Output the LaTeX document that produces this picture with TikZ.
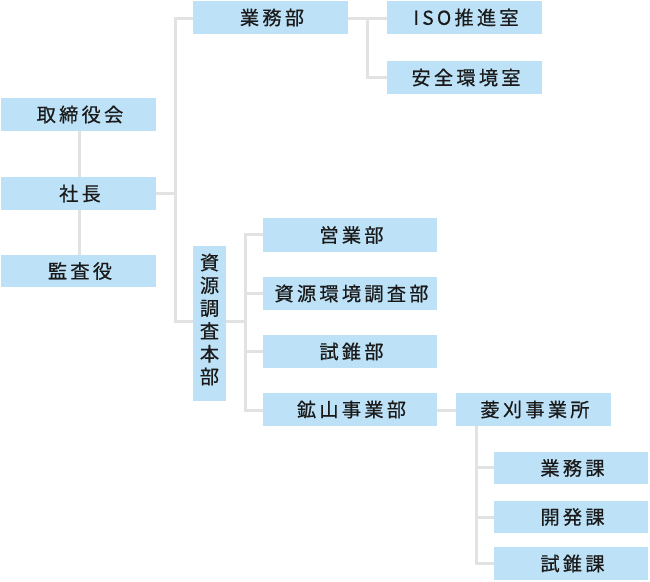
\documentclass[tikz,border=0pt]{standalone}
\usepackage{fontspec}
\newfontfamily\jp[LetterSpace=17,FakeBold=0.6]{Noto Sans CJK JP}
\definecolor{boxfill}{HTML}{BDE2F7}
\definecolor{linecol}{HTML}{E2E2E2}
\definecolor{txt}{HTML}{1A1A1A}
\begin{document}
\begin{tikzpicture}[x=1pt,y=-1pt,
  box/.style={fill=boxfill,draw=none,inner sep=0pt,text=txt,font=\jp\fontsize{19.2}{19.2}\selectfont},
  conn/.style={draw=linecol,line width=3pt}]
\useasboundingbox (0,0) rectangle (650,581);
\newcommand{\bx}[6]{\node[box,minimum width=#4-#2,minimum height=#5-#3] (#1) at ({(#2+#4)/2},{(#3+#5)/2}) {\hspace*{3pt}#6};}
% connectors first
\coordinate (t1a) at (175,18);
\coordinate (t1b) at (175,321);
\coordinate (t2a) at (245,234);
\coordinate (t2b) at (245,410);
\coordinate (t3a) at (367,18);
\coordinate (t3b) at (367,77);
\coordinate (t4b) at (476,563);
\coordinate (ps) at (175,193);
\draw[conn] (79,114) -- (79,271);
\draw[conn] (156,193) -- (ps);
\draw[conn,line cap=rect] (193,18) -- (t1a) -- (t1b) -- (193,321);
\draw[conn] (348,18) -- (387,18);
\draw[conn] (t3a) -- (t3b) -- (387,77);
\draw[conn] (226,321) -- (245,321);
\draw[conn] (264,234) -- (t2a) -- (t2b) -- (264,410);
\draw[conn] (245,293) -- (264,293);
\draw[conn] (245,351) -- (264,351);
\draw[conn] (437,410) -- (456,410);
\draw[conn] (476,426) -- (t4b) -- (494,563);
\draw[conn] (476,467) -- (494,467);
\draw[conn] (476,517) -- (494,517);
% boxes
\bx{torishimari}{1}{98}{156}{131}{取締役会}
\bx{shacho}{1}{177}{156}{210}{社長}
\bx{kansa}{1}{255}{156}{287}{監査役}
\bx{gyomubu}{193}{1}{348}{34}{業務部}
\bx{iso}{387}{1}{542}{34}{ISO推進室}
\bx{anzen}{387}{61}{542}{94}{安全環境室}
\node[box,minimum width=33,minimum height=155] (shigen) at (209.5,323.5) {};
\node[box,align=center,font=\jp\fontsize{19.2}{22.8}\selectfont] at (209.5,319.5) {資\\源\\調\\査\\本\\部};
\bx{eigyo}{263}{218}{437}{252}{営業部}
\bx{kankyo}{263}{277}{437}{310}{資源環境調査部}
\bx{shisui}{263}{335}{437}{368}{試錐部}
\bx{kozan}{263}{393}{437}{426}{鉱山事業部}
\bx{hishikari}{456}{393}{611}{426}{菱刈事業所}
\bx{gyomuka}{494}{452}{648}{484}{業務課}
\bx{kaihatsu}{494}{501}{648}{533}{開発課}
\bx{shisuika}{494}{547}{648}{580}{試錐課}
\end{tikzpicture}
\end{document}
